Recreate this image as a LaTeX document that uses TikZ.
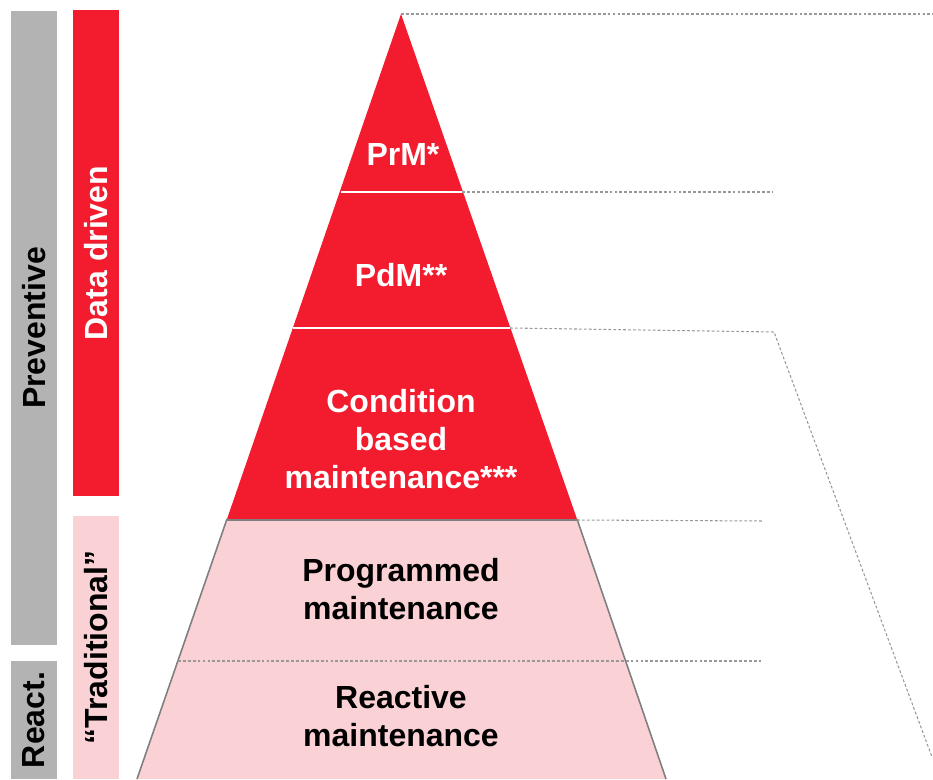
\documentclass[tikz,border=0pt]{standalone}
\usepackage{fontspec}
\setmainfont{Liberation Sans}
\definecolor{pyrred}{RGB}{242,28,46}
\definecolor{pyrpink}{RGB}{250,209,212}
\definecolor{bargray}{RGB}{179,179,179}
\definecolor{edgegray}{RGB}{127,127,127}
\tikzset{
  sidebar/.style={rotate=90, inner sep=0pt, minimum height=0.46cm, font=\fontsize{9.1}{10.8}\selectfont\bfseries},
  level/.style={align=center, font=\fontsize{9.1}{10.8}\selectfont\bfseries},
  guide/.style={edgegray!80, line width=0.3pt, dash pattern=on 0.8pt off 0.6pt}
}
\begin{document}
\begin{tikzpicture}
\useasboundingbox (0,0) rectangle (9.33,7.79);
\node[sidebar, fill=bargray, minimum width=6.34cm] (preventive) at (0.34,4.51) {Preventive};
\node[sidebar, fill=bargray, minimum width=1.18cm] (react) at (0.34,0.59) {React.};
\node[sidebar, fill=pyrred, text=white, minimum width=4.86cm] (datadriven) at (0.96,5.26) {Data driven};
\node[sidebar, fill=pyrpink, minimum width=2.63cm] (traditional) at (0.96,1.315) {“Traditional”};
\fill [pyrred] (4.01,7.65) -- (5.77,2.60) -- (2.27,2.60) -- cycle;
\draw [white, line width=0.6pt] (3.41,5.87) -- (4.62,5.87);
\draw [white, line width=0.6pt] (2.93,4.51) -- (5.10,4.51);
\fill [pyrpink] (2.27,2.60) -- (5.77,2.60) -- (6.66,0) -- (1.37,0) -- cycle;
\draw [edgegray, line width=0.45pt] (2.27,2.60) -- (1.37,0);
\draw [edgegray, line width=0.45pt] (5.77,2.60) -- (6.66,0);
\draw [edgegray, line width=0.85pt] (2.27,2.59) -- (5.77,2.59);
\draw [guide] (4.01,7.65) -- (9.33,7.65);
\draw [guide] (4.62,5.87) -- (7.73,5.87);
\draw [guide] (5.10,4.51) -- (7.74,4.47) -- (9.32,0.22);
\draw [guide] (5.77,2.59) -- (7.63,2.58);
\draw [guide] (1.78,1.18) -- (7.63,1.18);
\node[level, text=white] (prm) at (4.03,6.24) {PrM*};
\node[level, text=white] (pdm) at (4.01,5.04) {PdM**};
\node[level, text=white] (cbm) at (4.01,3.40) {Condition\\based\\maintenance***};
\node[level] (pgm) at (4.01,1.90) {Programmed\\maintenance};
\node[level] (rcm) at (4.01,0.63) {Reactive\\maintenance};
\end{tikzpicture}
\end{document}
